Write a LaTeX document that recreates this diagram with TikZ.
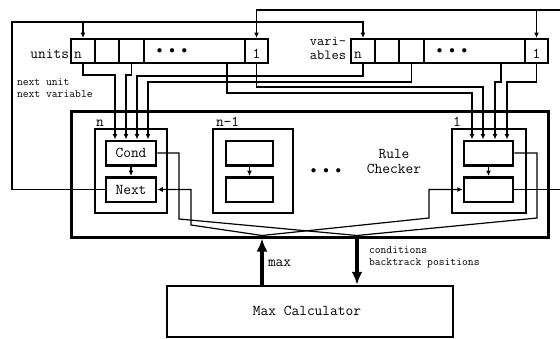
\documentclass[tikz,border=0pt]{standalone}
\usetikzlibrary{arrows.meta}
\newcommand{\dgmain}{\fontsize{15}{17}\selectfont\ttfamily}
\newcommand{\dgsmall}{\fontsize{11.3}{13}\selectfont\ttfamily}
\newcommand{\dgdots}{{\fontsize{11}{11}\selectfont$\bullet$\hspace{7pt}$\bullet$\hspace{7pt}$\bullet$}}
\begin{document}
\begin{tikzpicture}[x=1pt,y=-1pt,
  every node/.style={font=\dgmain, inner sep=0pt, outer sep=auto},
  cell/.style={draw, line width=2pt, minimum height=24pt, minimum width=#1},
  blk/.style={draw, line width=2pt, minimum width=#1, minimum height=84pt},
  ibox/.style={draw, line width=2.5pt, minimum width=#1, minimum height=24.5pt},
  conn/.style={line width=1.2pt},
  arr/.style={conn, -{Latex[length=5.5pt,width=5pt]}},
  fat/.style={line width=3.5pt, -{Latex[length=13pt,width=11pt]}},
  small/.style={font=\dgsmall}
]
\useasboundingbox (0,0) rectangle (560,338);

% ---- units register
\node[cell=24pt] (un) at (83,51) {};
\node[cell=24pt] (u2) at (107,51) {};
\node[cell=25pt] (u3) at (131.5,51) {};
\node[cell=101pt] (ud) at (194.5,51) {};
\node[cell=23pt] (u1) at (256.5,51) {};
\node[anchor=base] (tun) at (78,58) {n};
\node[anchor=base] (tu1) at (256.5,58) {1};
\node (dotu) at (172,51) {\dgdots};
\node[anchor=base east] (lunits) at (69,58) {units};

% ---- variables register
\node[cell=24pt] (vn) at (363,51) {};
\node[cell=24pt] (v2) at (387,51) {};
\node[cell=25pt] (v3) at (411.5,51) {};
\node[cell=101pt] (vd) at (474.5,51) {};
\node[cell=23pt] (v1) at (536.5,51) {};
\node[anchor=base] (tvn) at (358,58) {n};
\node[anchor=base] (tv1) at (536.5,58) {1};
\node (dotv) at (452,51) {\dgdots};
\node[anchor=east, align=right, font={\fontsize{14}{14}\selectfont\ttfamily}] (lvar) at (346,48) {vari-\\ables};

\node[small,anchor=base west] (lnext1) at (17,85) {next unit};
\node[small,anchor=base west] (lnext2) at (17,97.5) {next variable};

% ---- rule checker
\node[draw, line width=3pt, minimum width=477pt, minimum height=126pt] (rc) at (309.5,174) {};
\node[blk=72pt] (bn) at (131,171) {};
\node[blk=80pt] (bm) at (253,171) {};
\node[blk=74pt] (b1) at (489,171) {};
\node[anchor=base west] (lbn) at (96,126) {n};
\node[anchor=base west] (lbm) at (216,126) {n-1};
\node[anchor=base west] (lb1) at (453,126) {1};

\node[ibox=50pt] (condn) at (131,153) {Cond};
\node[ibox=50pt] (nextn) at (131,189.5) {Next};
\node[ibox=47pt] (condm) at (249.5,153) {};
\node[ibox=47pt] (nextm) at (249.5,189.5) {};
\node[ibox=49pt] (cond1) at (488.5,153) {};
\node[ibox=49pt] (next1) at (488.5,189.5) {};

\draw[arr] (condn) -- (nextn);
\draw[arr] (condm) -- (nextm);
\draw[arr] (cond1) -- (next1);

\node (dotr) at (326,171) {\dgdots};
\node[anchor=base] (lrule) at (394,158) {Rule};
\node[anchor=base] (lcheck) at (394,173) {Checker};

% ---- max calculator
\node[draw, line width=2.5pt, minimum width=286pt, minimum height=51pt] (maxc) at (310,311.5) {};
\node[anchor=base] (lmaxc) at (307,315.5) {Max Calculator};

\coordinate (maxtip) at (262,235.5);
\coordinate (condtop) at (357,235.5);

\draw[fat] (maxc.north -| maxtip) -- (rc.south -| maxtip);
\draw[fat] (rc.south -| condtop) -- (maxc.north -| condtop);
\node[anchor=base west] (lmax) at (268,266) {max};
\node[small,anchor=base west] (lcond) at (369,253) {conditions};
\node[small,anchor=base west] (lback) at (369,265.5) {backtrack positions};

% ---- register -> condition inputs
\draw[arr] (un.south) |- (115,75) -- ([xshift=-16pt]condn.north);
\draw[arr] (u3.south) |- (126,75) -- ([xshift=-5pt]condn.north);
\draw[arr] (vn.south) |- (137,76) -- ([xshift=6pt]condn.north);
\draw[arr] (v3.south) |- (148,82) -- ([xshift=17pt]condn.north);
\draw[arr] ([xshift=32.5pt]ud.south) |- (472,93) -- ([xshift=-16.5pt]cond1.north);
\draw[arr] (u1.south) |- (483,87) -- ([xshift=-5.5pt]cond1.north);
\draw[arr] ([xshift=26.5pt]vd.south) |- (495,82) -- ([xshift=6.5pt]cond1.north);
\draw[arr] (v1.south) |- (507,82) -- ([xshift=18.5pt]cond1.north);

% ---- internal wires
\draw[conn] (condn.east) -| (179,219) -- (condtop);
\draw[arr] (maxtip) -- (191,225) |- (nextn.east);
\draw[conn] (cond1.east) -| (537,218) -- (condtop);
\draw[arr] (maxtip) -- (429,218) |- (next1.west);

% ---- feedback lines
\coordinate (jl) at (83,22);
\coordinate (rtop) at (560,10);
\coordinate (jr) at (536.5,10);
\coordinate (rmid) at (560,189.5);
\draw[arr] (nextn.west) -- (12,189.5) -- (12,22) -| (vn.north);
\draw[arr] (jl) -- (un.north);
\draw[arr] (rtop) -| (u1.north);
\draw[arr] (jr) -- (v1.north);
\draw[conn] (next1.east) -- (rmid);
\end{tikzpicture}
\end{document}
